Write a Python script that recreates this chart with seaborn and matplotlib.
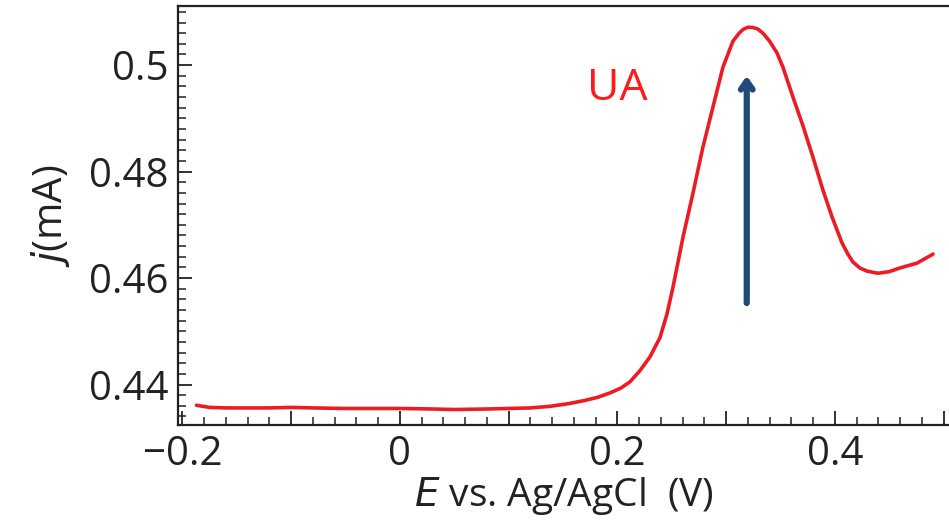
import matplotlib
matplotlib.use("Agg")
import matplotlib.pyplot as plt
import matplotlib.ticker as mticker
import pandas as pd
import seaborn as sns

sns.set_theme(style="white")
plt.rcParams["font.family"] = ["Open Sans", "DejaVu Sans"]

# potential (V vs Ag/AgCl) and current density (mA)
potential = [-0.187, -0.175, -0.16, -0.14, -0.12, -0.10, -0.08, -0.05, -0.02, 0.0,
             0.03, 0.05, 0.08, 0.10, 0.12, 0.138, 0.155, 0.17, 0.182, 0.193,
             0.203, 0.2116, 0.2208, 0.23, 0.2392, 0.2456, 0.2512, 0.2604, 0.2696,
             0.2787, 0.2879, 0.2971, 0.3063, 0.3120, 0.3156, 0.3197, 0.3238, 0.3290,
             0.3339, 0.3400, 0.3468, 0.3523, 0.3615, 0.3707, 0.3799, 0.3891, 0.3974,
             0.4066, 0.4120, 0.4167, 0.4230, 0.4296, 0.4397, 0.45, 0.46, 0.4756, 0.4903]
current = [0.4361, 0.4357, 0.4356, 0.4356, 0.4356, 0.4357, 0.4356, 0.4355, 0.4355, 0.4355,
           0.4354, 0.4353, 0.4354, 0.4355, 0.4356, 0.4359, 0.4364, 0.4370, 0.4376, 0.4384,
           0.4393, 0.4405, 0.4426, 0.4452, 0.4488, 0.4532, 0.4583, 0.4677, 0.4760,
           0.4846, 0.4921, 0.4996, 0.5045, 0.5060, 0.5067, 0.5071, 0.5071, 0.5068,
           0.5060, 0.5045, 0.5023, 0.4996, 0.4940, 0.4886, 0.4827, 0.4765, 0.4715,
           0.4666, 0.4645, 0.4630, 0.4619, 0.4613, 0.4609, 0.4612, 0.4619, 0.4628, 0.4645]

x_ticks = [-0.2, -0.1, 0.0, 0.1, 0.2, 0.3, 0.4, 0.5]
x_tick_labels = ["\u22120.2", "", "0", "", "0.2", "", "0.4", ""]
y_ticks = [0.44, 0.46, 0.48, 0.5]
y_tick_labels = ["0.44", "0.46", "0.48", "0.5"]

peak_label = "UA"
peak_label_pos = (0.200, 0.4955)
arrow_tail = (0.319, 0.4553)
arrow_head = (0.319, 0.4980)

df = pd.DataFrame({"E": potential, "j": current})

fig = plt.figure(figsize=(9.49, 5.24), dpi=100)
ax = fig.add_axes([0.1876, 0.189, 0.8124, 0.7995])

sns.lineplot(data=df, x="E", y="j", ax=ax, color="#ec1c24", linewidth=2.6)

ax.set_xlim(-0.204, 0.505)
ax.set_ylim(0.4324, 0.5111)

ax.set_xticks(x_ticks)
ax.set_xticklabels(x_tick_labels)
ax.set_yticks(y_ticks)
ax.set_yticklabels(y_tick_labels)
ax.xaxis.set_minor_locator(mticker.MultipleLocator(0.02))
ax.yaxis.set_minor_locator(mticker.MultipleLocator(0.002))

ax.tick_params(axis="both", which="major", direction="in", length=10, width=1.3,
               color="#222222", labelsize=29, labelcolor="#222222", pad=7,
               bottom=True, left=True)
ax.tick_params(axis="both", which="minor", direction="in", length=6, width=1.1,
               color="#222222", bottom=True, left=True)

for side in ["left", "bottom", "top"]:
    ax.spines[side].set_color("#222222")
    ax.spines[side].set_linewidth(1.6)
ax.spines["right"].set_visible(False)

ax.set_xlabel(r"$\it{E}$ vs. Ag/AgCl  (V)", fontsize=28, color="#222222", labelpad=0)
ax.set_ylabel(r"$\it{j}$(mA)", fontsize=29, color="#222222", labelpad=12)

ax.text(*peak_label_pos, peak_label, color="#ff1a1a", fontsize=32,
        ha="center", va="center")

ax.annotate("", xy=arrow_head, xytext=arrow_tail,
            arrowprops=dict(arrowstyle="->,head_length=0.5,head_width=0.35",
                            color="#1f4a7c", lw=4.5, shrinkA=0, shrinkB=0))

fig.savefig("out.png", dpi=100)
